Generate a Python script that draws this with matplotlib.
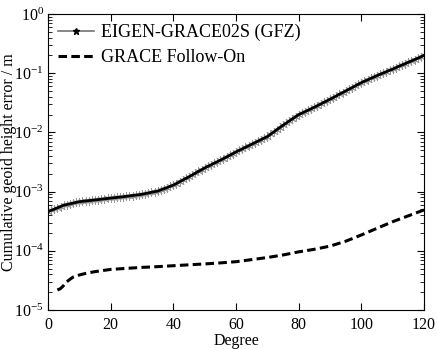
import matplotlib
matplotlib.use("Agg")
import matplotlib.pyplot as plt
from matplotlib.lines import Line2D
import numpy as np

plt.rcParams['font.family'] = ['Liberation Serif', 'DejaVu Serif']
plt.rcParams['mathtext.fontset'] = 'custom'
plt.rcParams['mathtext.rm'] = 'Liberation Serif'
plt.rcParams['mathtext.it'] = 'Liberation Serif:italic'

# EIGEN-GRACE02S (GFZ), one value per degree 0..120
eigen_deg = list(range(0, 121))
eigen_err = [
    4.57e-4, 4.81e-4, 5.06e-4, 5.32e-4, 5.60e-4, 5.89e-4, 6.05e-4, 6.22e-4, 6.40e-4, 6.58e-4,
    6.76e-4, 6.85e-4, 6.95e-4, 7.05e-4, 7.14e-4, 7.24e-4, 7.34e-4, 7.45e-4, 7.55e-4, 7.66e-4,
    7.76e-4, 7.87e-4, 7.98e-4, 8.09e-4, 8.20e-4, 8.32e-4, 8.45e-4, 8.59e-4, 8.73e-4, 8.87e-4,
    9.02e-4, 9.25e-4, 9.48e-4, 9.73e-4, 9.98e-4, 1.02e-3, 1.07e-3, 1.12e-3, 1.17e-3, 1.23e-3,
    1.29e-3, 1.37e-3, 1.47e-3, 1.56e-3, 1.67e-3, 1.78e-3, 1.91e-3, 2.04e-3, 2.19e-3, 2.34e-3,
    2.51e-3, 2.67e-3, 2.83e-3, 3.01e-3, 3.19e-3, 3.39e-3, 3.61e-3, 3.85e-3, 4.11e-3, 4.39e-3,
    4.68e-3, 4.97e-3, 5.27e-3, 5.60e-3, 5.94e-3, 6.31e-3, 6.70e-3, 7.11e-3, 7.55e-3, 8.02e-3,
    8.51e-3, 9.29e-3, 1.01e-2, 1.11e-2, 1.21e-2, 1.32e-2, 1.43e-2, 1.56e-2, 1.69e-2, 1.84e-2,
    2.00e-2, 2.11e-2, 2.24e-2, 2.37e-2, 2.51e-2, 2.66e-2, 2.83e-2, 3.01e-2, 3.21e-2, 3.41e-2,
    3.63e-2, 3.87e-2, 4.13e-2, 4.41e-2, 4.70e-2, 5.01e-2, 5.35e-2, 5.70e-2, 6.08e-2, 6.49e-2,
    6.92e-2, 7.31e-2, 7.73e-2, 8.17e-2, 8.63e-2, 9.12e-2, 9.59e-2, 1.01e-1, 1.06e-1, 1.12e-1,
    1.17e-1, 1.24e-1, 1.31e-1, 1.38e-1, 1.45e-1, 1.53e-1, 1.61e-1, 1.70e-1, 1.79e-1, 1.89e-1,
    2.00e-1,
]

# GRACE Follow-On
gfo_deg = [3, 4, 5, 6, 7, 8, 10, 12, 15, 20, 25, 30, 35, 40, 45, 50, 55, 60, 65, 70,
           75, 80, 85, 90, 95, 100, 105, 110, 115, 120]
gfo_err = [2.18e-5, 2.3e-5, 2.6e-5, 3.0e-5, 3.3e-5, 3.6e-5, 3.9e-5, 4.15e-5, 4.45e-5, 4.85e-5,
           5.05e-5, 5.25e-5, 5.4e-5, 5.6e-5, 5.8e-5, 6.0e-5, 6.25e-5, 6.55e-5, 7.1e-5, 7.7e-5,
           8.5e-5, 9.6e-5, 1.06e-4, 1.2e-4, 1.45e-4, 1.85e-4, 2.4e-4, 3.1e-4, 3.9e-4, 4.9e-4]

xticks = [0, 20, 40, 60, 80, 100, 120]
yticks = [1e-5, 1e-4, 1e-3, 1e-2, 1e-1, 1e0]
ytick_labels = ['$10^{-5}$', '$10^{-4}$', '$10^{-3}$', '$10^{-2}$', '$10^{-1}$', '$10^{0}$']

fig = plt.figure(figsize=(4.37, 3.49), dpi=100)
ax = fig.add_axes([0.1098, 0.1117, 0.8604, 0.8482])

# gray asterisks under a black line
ax.semilogy(eigen_deg, eigen_err, linestyle='none', marker=(6, 2, 0), markersize=6,
            markeredgecolor='0.6', markeredgewidth=0.7, zorder=2)
ax.semilogy(eigen_deg, eigen_err, color='black', linewidth=2.0, zorder=3)
ax.semilogy(gfo_deg, gfo_err, color='black', linewidth=2.2, linestyle=(0, (2.8, 1.4)),
            zorder=3)

ax.set_xlim(0, 120)
ax.set_ylim(1e-5, 1e0)
ax.set_xticks(xticks)
ax.set_xticklabels([str(t) for t in xticks])
ax.set_yticks(yticks)
ax.set_yticklabels(ytick_labels)

ax.tick_params(which='both', direction='in', top=True, right=True, labelsize=11.5)
ax.tick_params(axis='x', pad=5)
ax.tick_params(axis='y', pad=3)
ax.tick_params(which='major', length=5, width=0.8)
ax.tick_params(which='minor', length=3, width=0.6)
ax.xaxis.set_minor_locator(matplotlib.ticker.NullLocator())

ax.set_xlabel('Degree', fontsize=11.5, labelpad=0)
ax.set_ylabel('Cumulative geoid height error / m', fontsize=11.5)
ax.yaxis.set_label_coords(-0.083, 0.5)

handles = [
    Line2D([], [], color='0.45', linewidth=1.2, marker='*', markersize=5,
           markerfacecolor='black', markeredgecolor='black'),
    Line2D([], [], color='black', linewidth=2.2, linestyle=(0, (2.8, 1.4))),
]
ax.legend(handles, ['EIGEN-GRACE02S (GFZ)', 'GRACE Follow-On'], loc='upper left',
          frameon=False, fontsize=13, handlelength=2.0, handletextpad=0.4,
          borderaxespad=0.15, labelspacing=0.45)

fig.savefig('out.png', dpi=100)
